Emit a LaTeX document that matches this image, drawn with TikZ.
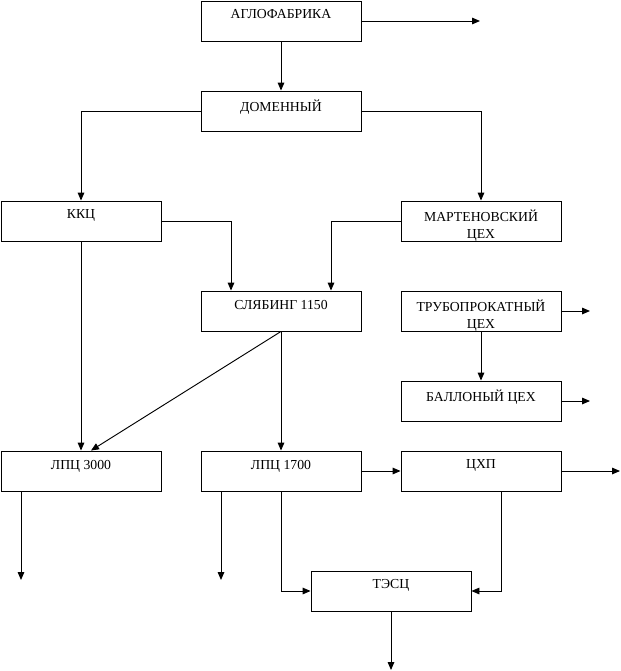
\documentclass[tikz,border=0pt]{standalone}
\usepackage{fontspec}
\setmainfont{Liberation Serif}
\usetikzlibrary{arrows.meta,positioning}
\tikzset{
  shop/.style={draw=black,line width=0.7pt,minimum width=120pt,minimum height=30pt,inner sep=0pt},
  shoptext/.style={anchor=north,align=center,font=\fontsize{10.3}{12.8}\selectfont,inner sep=0pt,yshift=-6.8pt},
  flow/.style={-{Triangle[length=6pt,width=5pt]},line width=0.7pt,draw=black}
}
\begin{document}
\begin{tikzpicture}[x=0.75pt,y=-0.75pt]
  \useasboundingbox (0,0) rectangle (621,671);
  % shops
  \node[shop,label={[shoptext]north:АГЛОФАБРИКА}] (aglo) at (281,21) {};
  \node[shop,label={[shoptext]north:ДОМЕННЫЙ}] (dom) at (281,111) {};
  \node[shop,label={[shoptext]north:ККЦ}] (kkc) at (81,221) {};
  \node[shop,label={[shoptext]north:МАРТЕНОВСКИЙ\\ЦЕХ}] (mart) at (481,221) {};
  \node[shop,label={[shoptext]north:СЛЯБИНГ 1150}] (slab) at (281,311) {};
  \node[shop,label={[shoptext]north:ТРУБОПРОКАТНЫЙ\\ЦЕХ}] (trub) at (481,311) {};
  \node[shop,label={[shoptext]north:БАЛЛОНЫЙ ЦЕХ}] (ball) at (481,401) {};
  \node[shop,label={[shoptext]north:ЛПЦ 3000}] (lpc3) at (81,471) {};
  \node[shop,label={[shoptext]north:ЛПЦ 1700}] (lpc17) at (281,471) {};
  \node[shop,label={[shoptext]north:ЦХП}] (chp) at (481,471) {};
  \node[shop,label={[shoptext]north:ТЭСЦ}] (tesc) at (391,591) {};
  % free ends
  \coordinate (aglo-out) at (480,21);
  \coordinate (trub-out) at (590,311);
  \coordinate (ball-out) at (590,401);
  \coordinate (chp-out) at (620,471);
  \coordinate (lpc3-out) at (21,580);
  \coordinate (lpc17-out) at (221,580);
  \coordinate (tesc-out) at (391,670);
  % flows
  \draw[flow] (aglo.east) -- (aglo-out);
  \draw[flow] (aglo.south) -- (dom.north);
  \draw[flow] (dom.west) -| (kkc.north);
  \draw[flow] (dom.east) -| (mart.north);
  \draw[flow] (kkc.east) -| ([xshift=-37.5pt]slab.north);
  \draw[flow] (mart.west) -| ([xshift=37.5pt]slab.north);
  \draw[flow] (trub.east) -- (trub-out);
  \draw[flow] (trub.south) -- (ball.north);
  \draw[flow] (ball.east) -- (ball-out);
  \draw[flow] (kkc.south) -- (lpc3.north);
  \draw[flow] (slab.south) -- ([xshift=7.5pt]lpc3.north);
  \draw[flow] (slab.south) -- (lpc17.north);
  \draw[flow] (lpc17.east) -- (chp.west);
  \draw[flow] (chp.east) -- (chp-out);
  \draw[flow] ([xshift=-45pt]lpc3.south) -- (lpc3-out);
  \draw[flow] ([xshift=-45pt]lpc17.south) -- (lpc17-out);
  \draw[flow] (lpc17.south) |- (tesc.west);
  \draw[flow] ([xshift=15pt]chp.south) |- (tesc.east);
  \draw[flow] (tesc.south) -- (tesc-out);
\end{tikzpicture}
\end{document}
